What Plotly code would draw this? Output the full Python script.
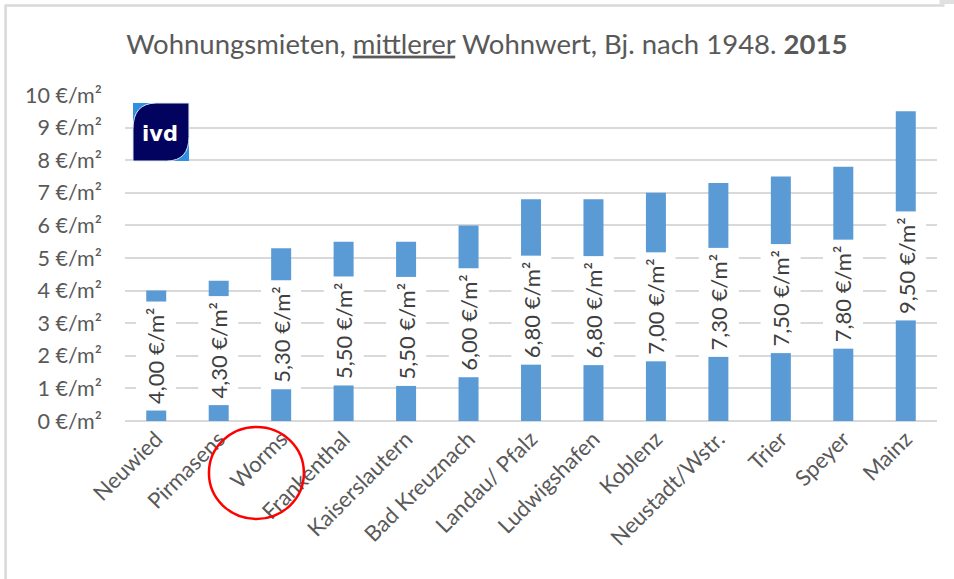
import plotly.graph_objects as go

cities = ["Neuwied", "Pirmasens", "Worms", "Frankenthal", "Kaiserslautern", "Bad Kreuznach",
          "Landau/ Pfalz", "Ludwigshafen", "Koblenz", "Neustadt/Wstr.", "Trier", "Speyer", "Mainz"]
rents = [4.00, 4.30, 5.30, 5.50, 5.50, 6.00, 6.80, 6.80, 7.00, 7.30, 7.50, 7.80, 9.50]
y_ticks = list(range(0, 11))
y_ticktext = [f"{t} €/m²" for t in y_ticks]

W, H = 954, 579
# plot area in page pixels
L, R, T, B = 125, 937.5, 95, 421

def px(x):
    return (x - L) / (R - L)

def py(y):
    return (B - y) / (B - T)

FONT = "Lato, Carlito, Calibri, sans-serif"
GREY = "#595959"

fig = go.Figure()
fig.add_trace(go.Bar(x=cities, y=rents, marker=dict(color="#5B9BD5", line=dict(width=0)),
                     hoverinfo="x+y"))

annotations = []
for c, v in zip(cities, rents):
    annotations.append(dict(
        x=c, y=v / 2, xref="x", yref="y", showarrow=False,
        text=f"{v:.2f}".replace(".", ",") + " €/m²",
        textangle=-90, bgcolor="white", borderpad=6,
        font=dict(family=FONT, size=22, color="#404040"),
    ))

# ivd logo text
annotations.append(dict(x=px(160), y=py(134), xref="paper", yref="paper", showarrow=False,
                        xanchor="center", yanchor="middle",
                        text="<b>ivd</b>", font=dict(family="DejaVu Sans, sans-serif", size=21, color="white")))

shapes = []
# chart border
shapes.append(dict(type="path", xref="paper", yref="paper",
                   path=f"M {px(5.5)},{py(600)} L {px(5.5)},{py(5.5)} L {px(945)},{py(5.5)}",
                   line=dict(color="#d9d9d9", width=2.5), layer="below"))
shapes.append(dict(type="rect", xref="paper", yref="paper", x0=px(940), x1=px(960), y0=py(4), y1=py(-5),
                   fillcolor="#e0e0e0", line=dict(width=0)))
# logo
x0, x1, y0, y1 = 133, 189, 103, 161
w, h = x1 - x0, y1 - y0
shapes.append(dict(type="rect", xref="paper", yref="paper", x0=px(x0), x1=px(x1), y0=py(y1), y1=py(y0),
                   fillcolor="#2f8fe0", line=dict(width=0)))
navy = (f"M {px(x0)},{py(y0 + 0.45 * h)} Q {px(x0)},{py(y0)} {px(x0 + 0.42 * w)},{py(y0)} "
        f"L {px(x1)},{py(y0)} L {px(x1)},{py(y0 + 0.58 * h)} Q {px(x1)},{py(y1)} {px(x0 + 0.6 * w)},{py(y1)} "
        f"L {px(x0)},{py(y1)} Z")
shapes.append(dict(type="path", xref="paper", yref="paper", path=navy,
                   fillcolor="#02035e", line=dict(color="#dfe8f5", width=1)))
# red circle around Worms
shapes.append(dict(type="circle", xref="paper", yref="paper",
                   x0=px(209), x1=px(304), y0=py(519), y1=py(427),
                   line=dict(color="#ff0000", width=2.5)))

fig.update_layout(
    width=W, height=H,
    margin=dict(l=L, r=W - R, t=T, b=H - B, autoexpand=False),
    paper_bgcolor="white", plot_bgcolor="white",
    bargap=0.68,
    showlegend=False,
    title=dict(text="Wohnungsmieten, <u>mittlerer</u> Wohnwert, Bj. nach 1948. <b>2015</b>",
               x=px(487), xref="paper", y=1 - 44 / H, yref="container",
               xanchor="center", yanchor="middle",
               font=dict(family=FONT, size=27.5, color=GREY)),
    xaxis=dict(tickangle=-45, tickfont=dict(family=FONT, size=22, color=GREY), showgrid=False,
               showline=False, ticks="", fixedrange=True, automargin=False),
    yaxis=dict(range=[0, 10], tickmode="array", tickvals=y_ticks, ticktext=y_ticktext,
               tickfont=dict(family=FONT, size=21.5, color=GREY), gridcolor="#d9d9d9", gridwidth=1.5,
               zeroline=True, zerolinecolor="#d9d9d9", zerolinewidth=2, showline=False, ticks="",
               automargin=False, ticklabelstandoff=22, fixedrange=True),
    annotations=annotations,
    shapes=shapes,
)

fig.write_html("out.html", config={"displayModeBar": False},
               post_script="document.body.style.margin='0';")
